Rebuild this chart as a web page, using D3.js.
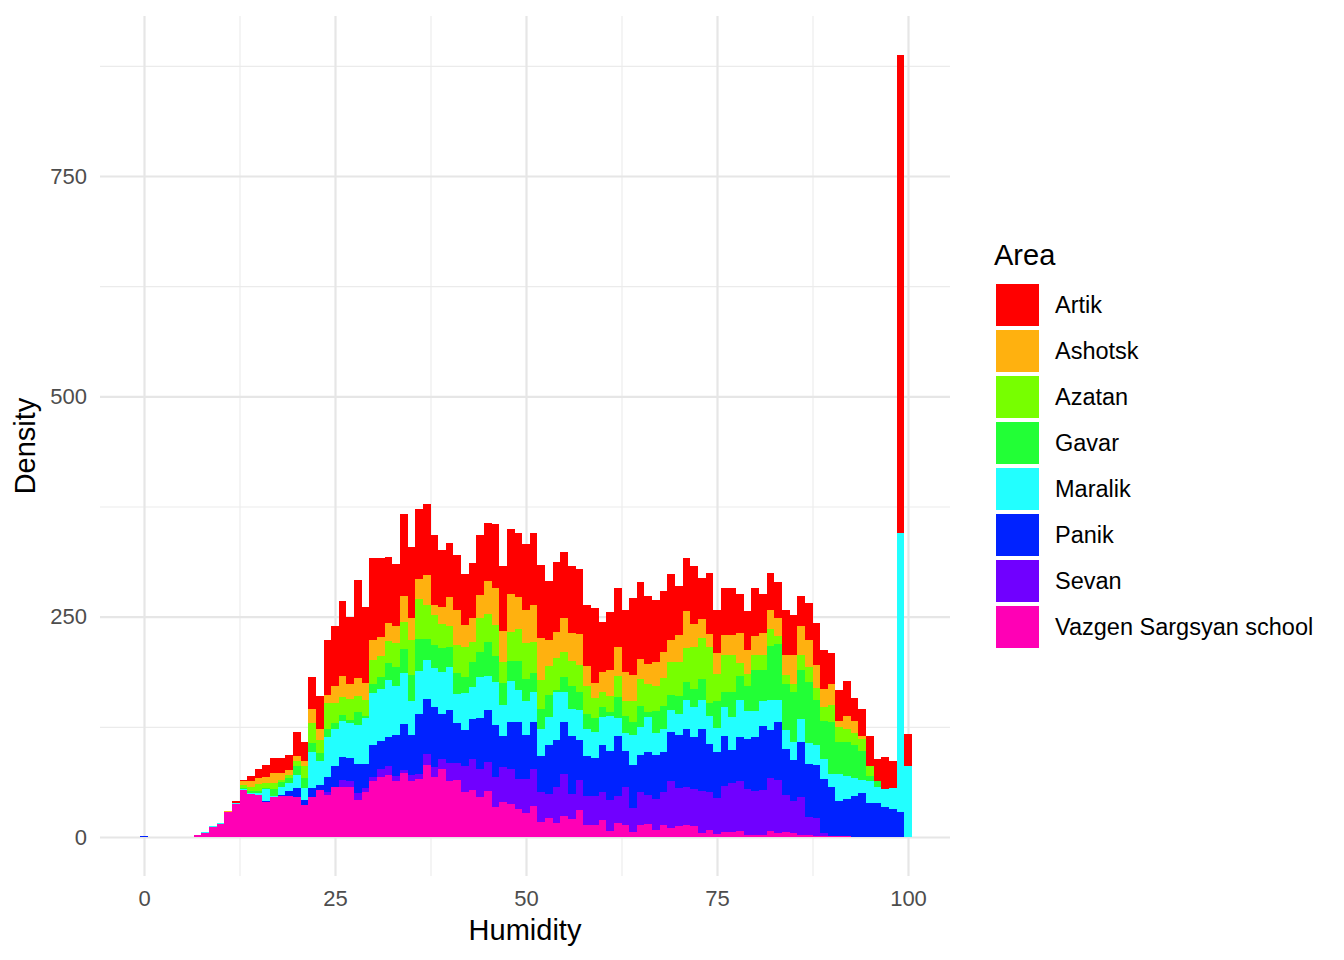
<!DOCTYPE html>
<html>
<head>
<meta charset="utf-8">
<script src="https://cdn.jsdelivr.net/npm/d3@7"></script>
<style>
  body { margin: 0; background: #fff; }
  svg { font-family: "Liberation Sans", Arial, Helvetica, sans-serif; }
</style>
</head>
<body>
<svg id="chart" width="1344" height="960"></svg>
<script>
// humidity bins (binwidth 1, centred on integers)
const humidity = [0,1,2,3,4,5,6,7,8,9,10,11,12,13,14,15,16,17,18,19,20,21,22,23,24,25,26,27,28,29,30,
  31,32,33,34,35,36,37,38,39,40,41,42,43,44,45,46,47,48,49,50,51,52,53,54,55,56,57,58,59,60,
  61,62,63,64,65,66,67,68,69,70,71,72,73,74,75,76,77,78,79,80,81,82,83,84,85,86,87,88,89,90,
  91,92,93,94,95,96,97,98,99,100];

const areas = ['Artik', 'Ashotsk', 'Azatan', 'Gavar', 'Maralik', 'Panik', 'Sevan', 'Vazgen Sargsyan school'];
const areaColors = ['#ff0000', '#ffb10f', '#77ff00', '#22ff36', '#22ffff', '#0022ff', '#7000ff', '#ff00b5'];

// counts per bin, one array per area
const artik = [0,0,0,0,0,0,0,0,0,0,0,0,2,1,5,10,14,17,17,17,27,22,37,38,62,68,85,76,112,86,92,
  89,75,71,93,81,79,81,80,65,62,62,57,63,68,65,72,74,74,73,75,82,83,67,79,74,75,74,69,85,57,
  65,67,71,87,87,77,70,69,74,56,60,66,47,69,48,53,53,45,44,54,44,41,40,51,46,35,42,48,44,35,
  35,40,26,30,34,25,36,30,542,37];
const ashotsk = [0,0,0,0,0,0,0,0,0,0,0,2,0,5,7,7,7,12,8,6,6,5,16,12,9,19,24,17,20,19,23,
  22,21,19,29,24,23,34,11,19,33,40,25,27,27,38,42,35,43,36,38,42,48,30,30,39,32,35,23,17,22,
  30,33,33,30,23,22,28,30,25,30,41,26,21,14,24,22,22,34,27,22,26,22,21,23,32,32,31,26,20,24,
  7,14,14,4,0,0,0,0,0,0];
const azatan = [0,0,0,0,0,0,0,0,0,0,0,0,0,3,5,8,5,6,3,3,5,14,22,15,30,23,21,24,18,19,27,
  24,25,27,31,40,45,38,34,28,23,32,35,23,38,32,36,24,33,36,41,35,33,33,36,28,29,30,31,23,18,
  18,24,17,23,30,32,28,31,38,39,39,48,47,64,31,42,42,14,14,17,16,19,9,10,9,17,17,13,16,19,
  17,15,14,13,12,0,0,0,0,0];
const gavar = [0,0,0,0,0,0,0,0,0,0,0,0,0,1,2,2,2,8,5,6,11,11,11,9,9,7,6,4,15,2,11,
  13,19,22,27,30,37,24,26,27,23,24,18,28,29,38,29,25,23,33,25,21,23,25,3,17,26,21,17,16,11,
  5,24,19,15,24,6,25,26,17,20,20,20,23,15,30,18,29,27,28,46,36,61,63,53,57,56,69,52,44,59,
  37,39,37,33,5,7,0,0,0,0];
const maralik = [0,0,0,0,0,0,0,0,1,1,1,0,1,2,1,2,13,2,9,9,14,14,40,27,45,41,41,39,44,52,59,
  59,64,55,58,38,48,44,44,47,49,33,42,36,46,39,49,35,46,37,38,34,30,32,54,34,30,34,31,29,32,
  39,20,20,34,32,39,25,26,25,24,33,34,33,32,28,32,37,42,32,29,28,35,26,21,21,26,24,22,22,15,
  30,26,20,15,25,18,21,24,317,80];
const panik = [1,0,0,0,0,0,0,0,0,0,0,0,0,0,0,0,1,0,1,5,11,6,11,6,17,24,26,27,33,27,36,
  32,34,47,52,46,68,63,69,52,60,45,41,45,58,59,59,36,54,64,50,54,41,55,53,59,66,45,46,44,53,
  56,69,41,49,42,49,50,46,55,60,66,59,71,54,52,57,38,51,56,62,73,54,65,52,46,63,60,60,62,56,
  40,42,47,50,39,39,34,32,28,0];
const sevan = [0,0,0,0,0,0,0,0,0,0,0,0,0,0,0,0,0,0,0,0,0,0,0,0,3,0,8,6,8,5,4,
  9,10,6,3,7,6,12,11,11,20,19,29,36,32,33,34,39,40,34,39,42,34,27,41,48,29,34,32,32,32,
  35,30,43,27,37,33,35,37,54,44,43,43,47,43,41,52,55,56,53,50,51,60,61,42,36,43,21,21,3,0,
  0,0,0,0,0,0,0,0,0,0];
const vazgen = [0,0,0,0,0,0,0,2,5,11,15,28,38,53,49,48,40,45,47,47,45,36,45,53,48,57,57,57,42,51,64,
  68,70,63,73,63,66,82,68,77,64,65,51,53,45,52,34,40,37,32,27,35,17,22,16,24,20,31,14,14,19,
  7,16,14,6,14,15,8,14,10,12,14,12,5,8,3,6,6,7,2,2,2,7,4,6,5,2,2,1,1,1,
  1,1,0,0,0,0,0,0,0,0];

const xMajor = [0, 25, 50, 75, 100], xMinor = [12.5, 37.5, 62.5, 87.5];
const yMajor = [0, 250, 500, 750], yMinor = [125, 375, 625, 875];

const seriesByArea = [artik, ashotsk, azatan, gavar, maralik, panik, sevan, vazgen];
const rows = humidity.map((h, i) => {
  const r = { h };
  areas.forEach((a, k) => { r[a] = seriesByArea[k][i]; });
  return r;
});
const color = d3.scaleOrdinal().domain(areas).range(areaColors);

const panel = { left: 100, right: 950, top: 16, bottom: 876 };
const x = d3.scaleLinear().domain([0, 100]).range([144, 908]);
const y = d3.scaleLinear().domain([0, 750]).range([837, 176]);

const svg = d3.select('#chart');

// grid
const grid = svg.append('g');
grid.append('g')
  .attr('transform', `translate(0,${panel.bottom})`)
  .call(d3.axisBottom(x).tickValues(xMinor).tickSize(-(panel.bottom - panel.top)).tickFormat(''))
  .call(g => g.select('.domain').remove())
  .call(g => g.selectAll('line').attr('stroke', '#ebebeb').attr('stroke-width', 1.1));
grid.append('g')
  .attr('transform', `translate(${panel.left},0)`)
  .call(d3.axisLeft(y).tickValues(yMinor).tickSize(-(panel.right - panel.left)).tickFormat(''))
  .call(g => g.select('.domain').remove())
  .call(g => g.selectAll('line').attr('stroke', '#ebebeb').attr('stroke-width', 1.1));

const xAxis = svg.append('g')
  .attr('transform', `translate(0,${panel.bottom})`)
  .call(d3.axisBottom(x).tickValues(xMajor).tickSize(-(panel.bottom - panel.top)).tickPadding(14))
  .call(g => g.select('.domain').remove());
xAxis.selectAll('line').attr('stroke', '#e6e6e6').attr('stroke-width', 2.2);
xAxis.selectAll('text').attr('fill', '#4d4d4d').style('font-size', '22px');

const yAxis = svg.append('g')
  .attr('transform', `translate(${panel.left},0)`)
  .call(d3.axisLeft(y).tickValues(yMajor).tickSize(-(panel.right - panel.left)).tickPadding(13))
  .call(g => g.select('.domain').remove());
yAxis.selectAll('line').attr('stroke', '#e6e6e6').attr('stroke-width', 2.2);
yAxis.selectAll('text').attr('fill', '#4d4d4d').style('font-size', '22px');

// stacked bars: Vazgen at the bottom, Artik on top
const stackKeys = areas.slice().reverse();
const stacked = d3.stack().keys(stackKeys)(rows);

svg.append('g')
  .selectAll('g')
  .data(stacked)
  .enter().append('g')
  .attr('fill', d => color(d.key))
  .selectAll('rect')
  .data(d => d.filter(p => p[1] - p[0] > 0))
  .enter().append('rect')
  .attr('shape-rendering', 'crispEdges')
  .attr('x', d => x(d.data.h - 0.5))
  .attr('width', d => x(d.data.h + 0.5) - x(d.data.h - 0.5))
  .attr('y', d => y(d[1]))
  .attr('height', d => y(d[0]) - y(d[1]));

// axis titles
svg.append('text')
  .attr('x', (panel.left + panel.right) / 2)
  .attr('y', 940)
  .attr('text-anchor', 'middle')
  .style('font-size', '29px')
  .text('Humidity');

svg.append('text')
  .attr('transform', `translate(35,${(panel.top + panel.bottom) / 2}) rotate(-90)`)
  .attr('text-anchor', 'middle')
  .style('font-size', '29px')
  .text('Density');

// legend
const legend = svg.append('g').attr('transform', 'translate(994,0)');
legend.append('text')
  .attr('x', 0)
  .attr('y', 265)
  .style('font-size', '29px')
  .text('Area');

const item = legend.selectAll('.item')
  .data(areas)
  .enter().append('g')
  .attr('class', 'item')
  .attr('transform', (d, i) => `translate(0,${284 + i * 46})`);
item.append('rect')
  .attr('x', 2)
  .attr('width', 43)
  .attr('height', 42)
  .attr('fill', d => color(d));
item.append('text')
  .attr('x', 61)
  .attr('y', 21)
  .attr('dy', '0.36em')
  .style('font-size', '23.5px')
  .text(d => d);
</script>
</body>
</html>
